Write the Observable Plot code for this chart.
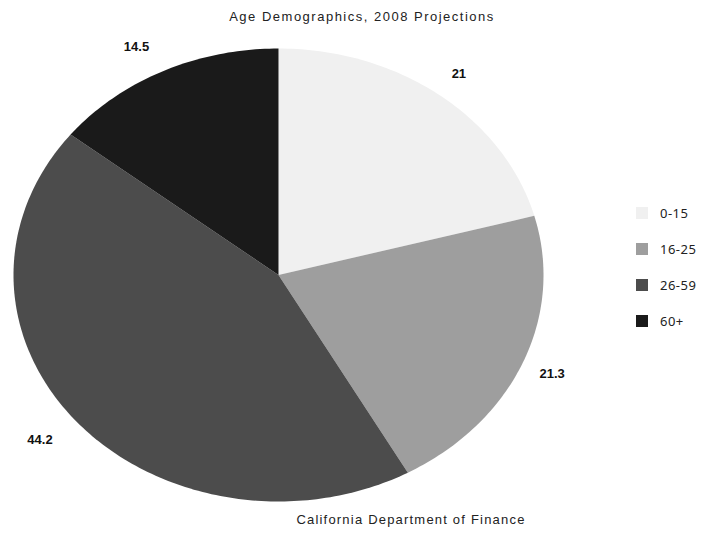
<!DOCTYPE html>
<html>
<head>
<meta charset="utf-8">
<script src="https://cdn.jsdelivr.net/npm/d3@7"></script>
<script src="https://cdn.jsdelivr.net/npm/@observablehq/plot@0.6"></script>
<style>
  body { margin: 0; background: #fff; }
  #page { position: relative; width: 712px; height: 533px; font-family: "Liberation Sans", Arial, sans-serif; color: #222; }
  #title { height: 34px; line-height: 34px; text-align: center; font-size: 13px; letter-spacing: 1.5px; padding-left: 12px; }
  #caption { height: 28px; line-height: 30px; text-align: center; font-size: 13px; letter-spacing: 1.2px; padding-left: 110px; }
  #legend { position: absolute; left: 636px; top: 204px; }
  .lg-swatch { margin-bottom: 17px; font-size: 13px; letter-spacing: 0.5px; }
  .lg-swatch svg { margin-right: 12px !important; }
</style>
</head>
<body>
<div id="page">
  <div id="title">Age Demographics, 2008 Projections</div>
  <div id="chart"></div>
  <div id="caption">California Department of Finance</div>
  <div id="legend"></div>
</div>
<script>
// Age groups and their share of the projected population (percent)
const ages = ["0-15", "16-25", "26-59", "60+"];
const shares = [21, 21.3, 44.2, 14.5];
const grays = ["#f0f0f0", "#9e9e9e", "#4c4c4c", "#1a1a1a"];

// Slice angles, clockwise from twelve o'clock
const arcs = d3.pie().sort(null).value(d => d)(shares);

// Outline points for each wedge in unit pie coordinates (y up)
const wedgePoints = arcs.flatMap((a, i) => {
  const n = Math.max(2, Math.ceil((a.endAngle - a.startAngle) / (Math.PI / 180)));
  const pts = [{age: ages[i], x: 0, y: 0}];
  for (let k = 0; k <= n; ++k) {
    const t = a.startAngle + (a.endAngle - a.startAngle) * k / n;
    pts.push({age: ages[i], x: Math.sin(t), y: Math.cos(t)});
  }
  return pts;
});

// Value labels just outside the rim, at each wedge's mid-angle
const labelRadius = 1.12;
const labels = arcs.map((a, i) => {
  const m = (a.startAngle + a.endAngle) / 2;
  return {age: ages[i], value: shares[i], x: labelRadius * Math.sin(m), y: labelRadius * Math.cos(m)};
});
const labelStyle = {x: "x", y: "y", text: d => String(d.value), fontSize: 13, fontWeight: "bold", fill: "#111"};

const chart = Plot.plot({
  width: 712,
  height: 471,
  marginTop: 14,
  marginBottom: 4,
  marginLeft: 13,
  marginRight: 169,
  x: {domain: [-1, 1], axis: null},
  y: {domain: [-1, 1], axis: null},
  color: {domain: ages, range: grays},
  style: {fontFamily: "Liberation Sans, Arial, sans-serif", overflow: "visible"},
  marks: [
    Plot.line(wedgePoints, {x: "x", y: "y", z: "age", fill: "age", stroke: "none", curve: "linear-closed"}),
    // right-half labels are centred on their anchor, left-half ones end at it
    Plot.text(labels.filter(d => d.x >= 0), {...labelStyle, textAnchor: "middle"}),
    Plot.text(labels.filter(d => d.x < 0), {...labelStyle, textAnchor: "end"})
  ]
});
document.getElementById("chart").append(chart);

const legend = chart.legend("color", {legend: "swatches", columns: 1, swatchSize: 12, className: "lg"});
document.getElementById("legend").append(legend);
</script>
</body>
</html>
